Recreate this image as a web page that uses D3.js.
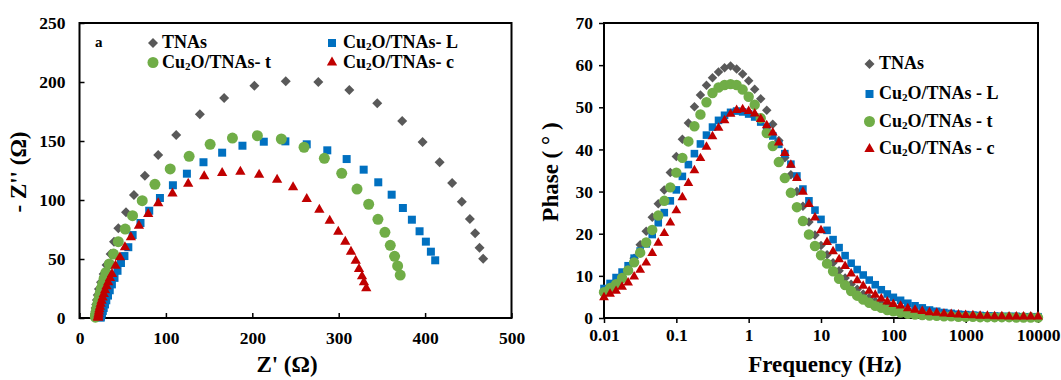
<!DOCTYPE html>
<html><head><meta charset="utf-8">
<script src="https://cdn.jsdelivr.net/npm/d3@7"></script>
<style>body{margin:0;background:#fff} text{font-family:"Liberation Serif","Times New Roman",serif;font-weight:bold;fill:#000}</style>
</head><body>
<svg id="c" width="1061" height="380"></svg>
<script>
// ---------- data ----------
const seriesKeys = ["TNAs", "L", "t", "c"];
const legendLeft = ["TNAs", "Cu₂O/TNAs- L", "Cu₂O/TNAs- t", "Cu₂O/TNAs- c"];
const legendRight = ["TNAs", "Cu₂O/TNAs - L", "Cu₂O/TNAs - t", "Cu₂O/TNAs - c"];
const colors = ["#595959", "#0070C0", "#70AD47", "#C00000"];

// Nyquist (Z', -Z'')
const nyqTNAsRe = [17.7,17.8,18,18.3,18.7,19.3,20.1,21.1,22.5,24.9,27.9,31.3,36,39.9,44.9,53.8,63,75.7,91.1,111.9,139.3,167.4,202.4,238.7,276.4,312.3,344.6,373.5,397.1,416.8,431.3,442.5,451.8,457.9,463,467.2];
const nyqTNAsIm = [0.8,2,3.7,5.8,8.4,11.5,15.2,19.5,24.5,30.3,37.3,44.9,54.2,64.7,76,89.6,104.2,120.6,138.1,155.1,172.6,186.4,196.9,200.7,200,193.2,182,167,149.2,132,114.4,98.6,83.9,71.8,59.6,50.3];
const nyqLRe = [24.5,24.8,25.3,26,27,28,29.5,31,33,35,37.5,40.5,44,48,52,56.5,61.5,70.6,80.7,93.1,108.1,124.3,143.5,165.1,188.6,213.3,238.3,263,286.8,309.2,328.9,345.8,361.3,374.3,384.7,393.6,400.9,406.7,411.7];
const nyqLIm = [0.3,1.2,2.5,4,6,8.5,11.5,15,19,23.5,28.5,34,40,46.6,52.5,60,70.3,80.5,90.9,101.7,112.5,122.3,132,140.1,146,149.4,149.7,147.2,142.1,134.7,125.7,115,104.5,93.2,83.3,73.5,64.7,56.2,48.9];
const nyqTRe = [18.4,18.6,18.9,19.3,19.8,20.4,21.1,21.9,22.9,24,25.3,26.8,28.5,30.5,34.5,39.4,44.9,52.9,61.4,72.6,87.3,105,126.9,151.2,177,205.9,233.6,259.9,283.4,303.5,321.2,334.7,345.4,353.5,359.7,364.7,368.2,371.2];
const nyqTIm = [0.7,1.7,3.1,4.8,6.8,9.1,11.7,14.6,17.8,21.3,25,29,33.5,38.5,45.8,54.2,64.7,75.4,86.7,99.4,113.3,126.3,137,147.2,152.5,154.5,151.7,144.7,135.3,122.6,109.3,96.4,83.6,72.6,61.6,52.3,44.1,36.4];
const nyqCRe = [21.5,21.6,21.8,22.1,22.5,23,23.7,24.5,25.5,26.7,28.1,29.6,31.3,33.2,35.3,37.6,41.7,46.8,52.6,59.5,68.8,79.5,91.1,107.6,125.8,144.3,165.1,186.2,207.9,228.7,247.2,263,277.6,289.6,299.5,307.6,314.2,319.7,323.5,327,329.2,331.9];
const nyqCIm = [0.2,0.9,2.1,3.6,5.4,7.4,9.6,12,14.6,17.4,20.4,23.6,26.9,30.3,33.8,37.3,44.3,51.4,59.9,68.4,78.2,88.1,97.2,105.5,113.8,120.1,122.9,124,121.4,117.2,110.8,100.8,91.8,82.5,73.1,64.7,56.2,48.6,41.5,35.3,30.3,25.2];

// Bode phase
const freq = [0.01,0.01212,0.01468,0.01778,0.02154,0.0261,0.03162,0.03831,0.04642,0.05623,0.06813,0.08254,
  0.1,0.1212,0.1468,0.1778,0.2154,0.261,0.3162,0.3831,0.4642,0.5623,0.6813,0.8254,
  1,1.212,1.468,1.778,2.154,2.61,3.162,3.831,4.642,5.623,6.813,8.254,
  10,12.12,14.68,17.78,21.54,26.1,31.62,38.31,46.42,56.23,68.13,82.54,
  100,125.9,158.5,199.5,251.2,316.2,398.1,501.2,631,794.3,
  1000,1259,1585,1995,2512,3162,3981,5012,6310,7943,10000];
const phaseTNAs = [6.5,7.4,8.5,9.8,11.4,14.2,17.4,20.6,23.9,27.1,30.4,34.5, 38.3,42.4,46.3,50.1,52.9,55.2,57.0,58.4,59.4,59.8,59.1,57.9, 56.3,54.3,52.0,49.3,46.0,42.1,38.0,34.0,30.0,26.5,22.8,19.7, 17.2,15.0,13.1,11.2,9.5,8.0,6.8,5.7,4.8,4.0,3.4,2.9, 2.5, 2.1,1.7,1.4,1.2,1.0,0.9,0.8,0.7,0.6,0.5, 0.5,0.4,0.4,0.3,0.3,0.3,0.2,0.2,0.2,0.2];
const phaseL = [7.0,8.2,9.6,10.9,12.4,14.2,15.9,17.6,19.8,22.6,25.0,27.8, 30.4,33.6,36.4,39.0,41.3,43.4,45.3,46.9,48.1,48.8,49.1,48.9, 48.4,47.7,46.5,45.2,43.2,41.2,39.0,36.5,33.7,30.6,27.8,25.6, 23.4,20.8,18.6,16.7,14.8,13.0,11.5,10.2,9.0,7.9,6.7,5.7, 4.9, 4.2,3.5,2.9,2.4,1.9,1.6,1.3,1.1,0.9,0.8, 0.7,0.6,0.5,0.5,0.4,0.4,0.4,0.3,0.3,0.3];
const phaseT = [6.1,7.1,8.0,9.5,11.3,13.2,15.5,17.9,20.9,24.3,27.8,31.0, 34.5,38.0,41.9,45.5,48.3,51.2,53.4,54.7,55.3,55.5,55.3,54.2, 52.5,50.6,47.4,43.9,40.8,37.0,33.2,29.7,26.3,23.0,19.8,17.1, 14.9,12.9,11.1,9.3,7.8,6.4,5.3,4.4,3.6,2.9,2.4,1.9, 1.6, 1.3,1.0,0.8,0.7,0.6,0.5,0.4,0.4,0.3,0.3, 0.3,0.2,0.2,0.2,0.2,0.2,0.1,0.1,0.1,0.1];
const phaseC = [4.9,5.7,6.4,7.4,8.4,9.8,11.4,13.1,15.4,17.8,20.1,22.6, 25.5,28.6,32.0,35.0,37.9,40.6,43.1,45.1,46.9,48.4,49.3,49.5, 49.1,48.5,47.2,45.7,44.0,41.6,39.1,36.3,33.2,29.9,27.0,23.8, 20.8,18.0,15.8,13.9,12.3,10.5,8.9,7.6,6.4,5.5,4.6,3.9, 3.3, 2.9,2.3,1.9,1.6,1.3,1.2,1.0,0.9,0.8,0.7, 0.6,0.5,0.5,0.4,0.4,0.3,0.3,0.3,0.3,0.3];

const zTicks = [0,100,200,300,400,500];
const zImTicks = [0,50,100,150,200,250];
const fTicks = [0.01,0.1,1,10,100,1000,10000];
const fTickLabels = ["0.01","0.1","1","10","100","1000","10000"];
const phTicks = [0,10,20,30,40,50,60,70];

// ---------- drawing ----------
const svg = d3.select("#c");
const nyq = [[nyqTNAsRe,nyqTNAsIm],[nyqLRe,nyqLIm],[nyqTRe,nyqTIm],[nyqCRe,nyqCIm]];
const bode = [phaseTNAs, phaseL, phaseT, phaseC];

function symbolPath(i, scale) {
  const s = scale || 1;
  if (i === 0) return {p: d3.symbol(d3.symbolSquare, 50*s*s)(), rot: 45};
  if (i === 1) return {p: d3.symbol(d3.symbolSquare, 64*s*s)(), rot: 0};
  if (i === 2) return {p: d3.symbol(d3.symbolCircle, 95*s*s)(), rot: 0};
  return {p: d3.symbol(d3.symbolTriangle, 46*s*s)(), rot: 0};
}

function addLabel(g, x, y, str, size) {
  const t = g.append("text").attr("x", x).attr("y", y).attr("font-size", size).attr("dominant-baseline", "middle");
  const parts = str.split("₂");
  t.append("tspan").text(parts[0]);
  if (parts.length > 1) {
    t.append("tspan").attr("font-size", size*0.62).attr("dy", 3).text("2");
    t.append("tspan").attr("dy", -3).text(parts[1]);
  }
  return t;
}

// ===== Left: Nyquist =====
const xL = d3.scaleLinear().domain([0,500]).range([79.5,511.5]);
const yL = d3.scaleLinear().domain([0,250]).range([318,23]);
const gL = svg.append("g");

gL.append("g").attr("transform","translate(0,318)")
  .call(d3.axisBottom(xL).tickValues(zTicks).tickSizeInner(-5).tickSizeOuter(0).tickPadding(14))
  .call(g => { g.select(".domain").remove(); g.selectAll("line").attr("stroke","#000").attr("stroke-width",1.5);
               g.selectAll("text").attr("font-size",17.5).attr("font-family",null); });
gL.append("g").attr("transform","translate(79.5,0)")
  .call(d3.axisLeft(yL).tickValues(zImTicks).tickSizeInner(-5).tickSizeOuter(0).tickPadding(14))
  .call(g => { g.select(".domain").remove(); g.selectAll("line").attr("stroke","#000").attr("stroke-width",1.5);
               g.selectAll("text").attr("font-size",17.5).attr("font-family",null); });
gL.append("rect").attr("x",79.5).attr("y",23).attr("width",432).attr("height",295)
  .attr("fill","none").attr("stroke","#000").attr("stroke-width",2);

nyq.forEach((s, i) => {
  const sp = symbolPath(i, 1);
  gL.append("g").selectAll("path").data(d3.range(s[0].length)).join("path")
    .attr("d", sp.p).attr("fill", colors[i])
    .attr("transform", k => `translate(${xL(s[0][k])},${yL(s[1][k])}) rotate(${sp.rot})`);
});

gL.append("text").attr("x",95).attr("y",44).attr("font-size",15).attr("dominant-baseline","middle").text("a");
const legL = [[153,43,162],[332,43,343],[153,62.5,162],[332,62.5,343]];
legendLeft.forEach((name, i) => {
  const sp = symbolPath(i, 1);
  gL.append("path").attr("d", sp.p).attr("fill", colors[i])
    .attr("transform", `translate(${legL[i][0]},${legL[i][1]}) rotate(${sp.rot})`);
  addLabel(gL, legL[i][2], legL[i][1]+1, name, 18);
});

gL.append("text").attr("x",287).attr("y",367).attr("text-anchor","middle").attr("font-size",23).attr("dominant-baseline","middle").text("Z' (Ω)");
gL.append("text").attr("transform","translate(21,172) rotate(-90)").attr("text-anchor","middle").attr("font-size",23).attr("dominant-baseline","middle").text("- Z'' (Ω)");

// ===== Right: Bode phase =====
const xR = d3.scaleLog().domain([0.01,10000]).range([604,1038]);
const yR = d3.scaleLinear().domain([0,70]).range([318,23]);
const gR = svg.append("g");

gR.append("g").attr("transform","translate(0,318)")
  .call(d3.axisBottom(xR).tickValues(fTicks).tickFormat((d,i)=>fTickLabels[i]).tickSizeInner(5).tickSizeOuter(0).tickPadding(6))
  .call(g => { g.select(".domain").remove(); g.selectAll("line").attr("stroke","#000").attr("stroke-width",1.5);
               g.selectAll("text").attr("font-size",17.5).attr("font-family",null); });
gR.append("g").attr("transform","translate(604,0)")
  .call(d3.axisLeft(yR).tickValues(phTicks).tickSizeInner(5).tickSizeOuter(0).tickPadding(6))
  .call(g => { g.select(".domain").remove(); g.selectAll("line").attr("stroke","#000").attr("stroke-width",1.5);
               g.selectAll("text").attr("font-size",17.5).attr("font-family",null); });
gR.append("rect").attr("x",604).attr("y",23).attr("width",434).attr("height",295)
  .attr("fill","none").attr("stroke","#000").attr("stroke-width",2);

bode.forEach((vals, i) => {
  const sp = symbolPath(i, 0.95);
  gR.append("g").selectAll("path").data(d3.range(freq.length)).join("path")
    .attr("d", sp.p).attr("fill", colors[i])
    .attr("transform", k => `translate(${xR(freq[k])},${yR(vals[k])}) rotate(${sp.rot})`);
});

const legRy = [64, 94, 121.5, 149];
legendRight.forEach((name, i) => {
  const sp = symbolPath(i, 1);
  gR.append("path").attr("d", sp.p).attr("fill", colors[i])
    .attr("transform", `translate(869.5,${legRy[i]}) rotate(${sp.rot})`);
  addLabel(gR, 879, legRy[i]+1, name, 18);
});

gR.append("text").attr("x",825).attr("y",367).attr("text-anchor","middle").attr("font-size",23).attr("dominant-baseline","middle").text("Frequency (Hz)");
gR.append("text").attr("transform","translate(553,172) rotate(-90)").attr("text-anchor","middle").attr("font-size",23).attr("dominant-baseline","middle").text("Phase ( ° )");
</script>
</body></html>
